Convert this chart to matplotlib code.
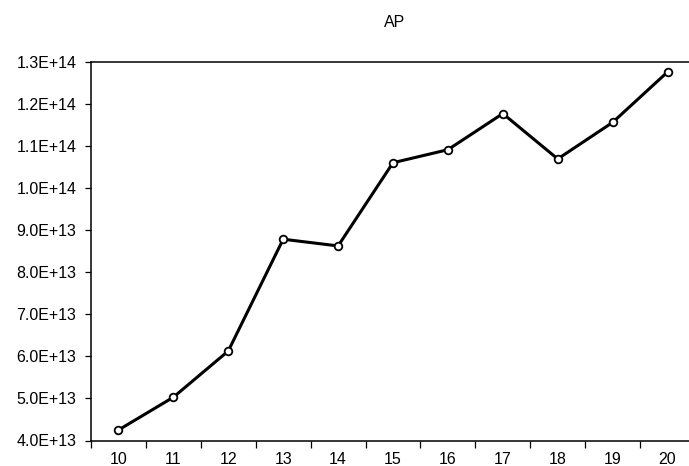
import matplotlib
matplotlib.use("Agg")
import matplotlib.pyplot as plt
import numpy as np

plt.rcParams['font.family'] = ['Liberation Sans', 'DejaVu Sans']

years = [10, 11, 12, 13, 14, 15, 16, 17, 18, 19, 20]
ap = [4.25e13, 5.03e13, 6.13e13, 8.79e13, 8.63e13, 10.61e13, 10.92e13, 11.78e13, 10.70e13, 11.57e13, 12.77e13]
yticks = [4.0e13, 5.0e13, 6.0e13, 7.0e13, 8.0e13, 9.0e13, 1.0e14, 1.1e14, 1.2e14, 1.3e14]
ylabels = ["4.0E+13", "5.0E+13", "6.0E+13", "7.0E+13", "8.0E+13", "9.0E+13",
           "1.0E+14", "1.1E+14", "1.2E+14", "1.3E+14"]

W, H = 689, 466
fig = plt.figure(figsize=(W/100, H/100), dpi=100)
left, right, top, bottom = 91, 695, 62.3, 440.5
ax = fig.add_axes([left/W, (H-bottom)/H, (right-left)/W, (bottom-top)/H])

x = np.arange(len(years))
ax.plot(x, ap, color='black', lw=2.2, marker='o', ms=5.5, mfc='white', mec='black', mew=1.3, zorder=3)

ax.set_xlim(-0.5, len(years)-0.5)
ax.set_ylim(yticks[0], yticks[-1])
ax.set_xticks(x)
ax.set_xticklabels([str(y) for y in years])
ax.set_xticks(np.arange(len(years)+1)-0.5, minor=True)
ax.tick_params(axis='x', which='major', length=0, pad=8.5, labelsize=11.5)
ax.tick_params(axis='x', which='minor', direction='out', length=5, width=0.9)
ax.set_yticks(yticks)
ax.set_yticklabels(ylabels)
ax.tick_params(axis='y', which='major', direction='out', length=4.5, width=0.9, pad=6, labelsize=11.5)

for s in ax.spines.values():
    s.set_linewidth(1.1)
    s.set_color('black')

fig.text(395/W, (H-22.5)/H, "AP", ha='center', va='center', fontsize=11.5)

fig.savefig("out.png", dpi=100)
